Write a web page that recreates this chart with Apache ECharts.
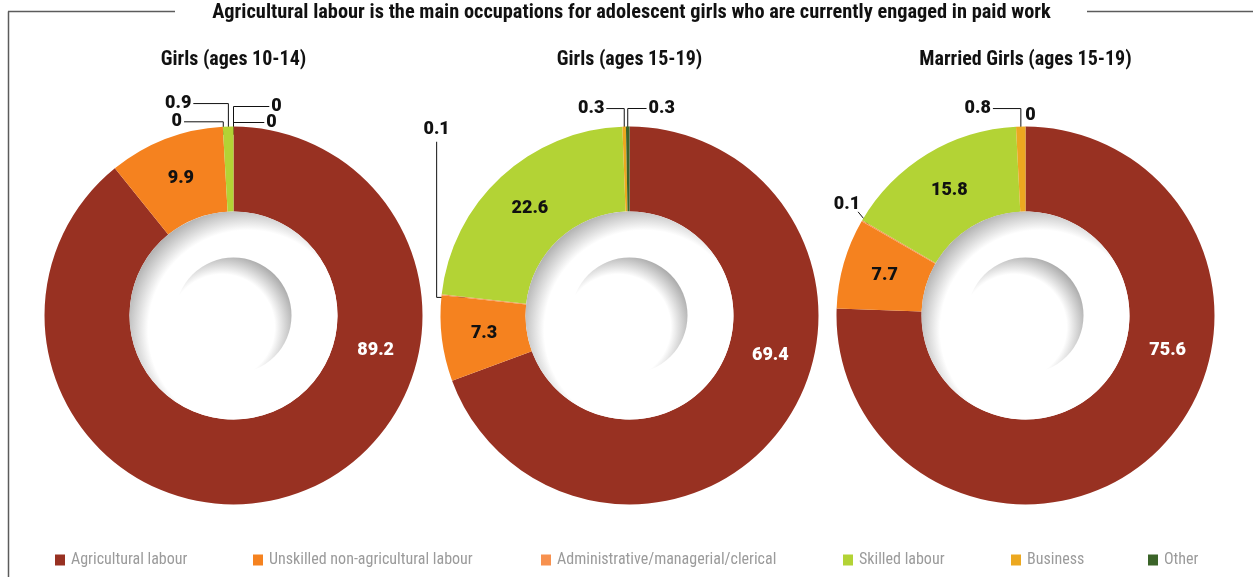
<!DOCTYPE html>
<html>
<head>
<meta charset="utf-8">
<script src="https://cdn.jsdelivr.net/npm/echarts@6/dist/echarts.min.js"></script>
<style>
  html, body { margin: 0; padding: 0; background: #ffffff; }
  #chart { width: 1253px; height: 577px; }
</style>
</head>
<body>
<div id="chart"></div>
<script>
// ---- data ----
const chartTitle = 'Agricultural labour is the main occupations for adolescent girls who are currently engaged in paid work';
const panelTitles = ['Girls (ages 10-14)', 'Girls (ages 15-19)', 'Married Girls (ages 15-19)'];
const categories = [
  'Agricultural labour',
  'Unskilled non-agricultural labour',
  'Administrative/managerial/clerical',
  'Skilled labour',
  'Business',
  'Other'
];
const girls10to14 = [89.2, 9.9, 0, 0.9, 0, 0];
const girls15to19 = [69.4, 7.3, 0.1, 22.6, 0.3, 0.3];
const married15to19 = [75.6, 7.7, 0.1, 15.8, 0.8, 0];

// ---- styling / layout ----
const panels = [girls10to14, girls15to19, married15to19];
const colors = ['#983122', '#f5821f', '#f7914f', '#b3d335', '#eca820', '#3b6429'];
const centersX = [233.5, 629.5, 1025.5];
const centerY = 315.5;
const ringRadius = [104, 189];
const dimpleRadius = 58;

// where the small-slice callouts sit, relative to the slice's outer edge
const callouts = [
  { 2: { dx: -46, dy: -5, mode: 'h', inset: 8 }, 3: { dx: -50, dy: -23, mode: 'h', inset: 8 },
    4: { dx: 43, dy: -20, mode: 'h', inset: 8 }, 5: { dx: 38, dy: -4, mode: 'h', inset: 8 } },
  { 2: { dx: -5, dy: -165, mode: 'v', inset: 24 }, 4: { dx: -33, dy: -18, mode: 'h', inset: 3 },
    5: { dx: 34, dy: -18, mode: 'h', inset: 3 } },
  { 2: { dx: -15, dy: -16, mode: 'd', inset: 8 }, 4: { dx: -43, dy: -18, mode: 'h', inset: 4 },
    5: { dx: 5, dy: -11, mode: 'none', inset: 0 } }
];
// angle (clockwise from 12 o'clock) for the big slice's value label
const mainLabelAngle = [104, 106, 104];

const narrow = '"Liberation Sans Narrow", "Roboto Condensed", "DejaVu Sans Condensed", "Arial Narrow", sans-serif';
const valueFont = 'Roboto, "Liberation Sans", sans-serif';

const chart = echarts.init(document.getElementById('chart'), null, { renderer: 'canvas' });

function buildData(values, k) {
  return values.map(function (v, i) {
    const c = callouts[k][i];
    return {
      name: categories[i],
      value: v,
      label: c ? { position: 'outside', color: '#111' }
               : { position: 'inside', color: i === 0 ? '#ffffff' : '#111111' },
      labelLine: { show: !!c && c.mode !== 'none' }
    };
  });
}

function placeLabel(p) {
  const k = p.seriesIndex;
  const L = chart.getModel().getSeriesByIndex(k).getData().getItemLayout(p.dataIndex);
  const c = callouts[k][p.dataIndex];
  const w = p.labelRect.width, h = p.labelRect.height;
  if (!c) {
    let a = (L.startAngle + L.endAngle) / 2;
    if (p.dataIndex === 0) a = -Math.PI / 2 + mainLabelAngle[k] * Math.PI / 180;
    const rr = (L.r + L.r0) / 2;
    return { x: L.cx + rr * Math.cos(a), y: L.cy + rr * Math.sin(a), align: 'center', verticalAlign: 'middle' };
  }
  const a = (L.startAngle + L.endAngle) / 2;
  const ax = L.cx + L.r * Math.cos(a), ay = L.cy + L.r * Math.sin(a);
  const ix = L.cx + (L.r - c.inset) * Math.cos(a), iy = L.cy + (L.r - c.inset) * Math.sin(a);
  const lx = ax + c.dx, ly = ay + c.dy;
  const out = { x: lx, y: ly, align: 'center', verticalAlign: 'middle' };
  if (c.mode === 'h') {
    const ex = c.dx < 0 ? lx + w / 2 + 2 : lx - w / 2 - 2;
    out.labelLinePoints = [[ex, ly], [ix, ly], [ix, iy]];
  } else if (c.mode === 'v') {
    out.labelLinePoints = [[lx, ly + h / 2 + 3], [lx, iy], [ix, iy]];
  } else if (c.mode === 'd') {
    const ex = lx + w / 2 - 2, ey = ly + h / 2 - 2;
    out.labelLinePoints = [[ex, ey], [(ex + ix) / 2, (ey + iy) / 2], [ix, iy]];
  }
  return out;
}

const ringSeries = panels.map(function (values, k) {
  return {
    type: 'pie',
    name: panelTitles[k],
    center: [centersX[k], centerY],
    radius: ringRadius,
    startAngle: 90,
    clockwise: true,
    avoidLabelOverlap: false,
    silent: true,
    animation: false,
    label: {
      show: true,
      formatter: '{c}',
      fontFamily: valueFont,
      fontWeight: 900,
      fontSize: 18
    },
    labelLine: { show: false, lineStyle: { color: '#111', width: 1 }, length: 10, length2: 10 },
    labelLayout: placeLabel,
    itemStyle: { borderWidth: 0 },
    data: buildData(values, k)
  };
});

// shaded hole and centre dimple of each ring
const holeFill = {
  type: 'radial', x: 0.57, y: 0.57, r: 0.6,
  colorStops: [{ offset: 0, color: '#ffffff' }, { offset: 0.8, color: '#ffffff' }, { offset: 1, color: '#b0b0b0' }]
};
const dimpleFill = {
  type: 'radial', x: 0.4, y: 0.6, r: 0.65,
  colorStops: [{ offset: 0, color: '#ffffff' }, { offset: 0.7, color: '#ffffff' }, { offset: 1, color: '#a6a6a6' }]
};
const decorSeries = [];
centersX.forEach(function (cx) {
  [[ringRadius[0], holeFill], [dimpleRadius, dimpleFill]].forEach(function (d) {
    decorSeries.push({
      type: 'pie', center: [cx, centerY], radius: [0, d[0]], silent: true, animation: false,
      label: { show: false }, labelLine: { show: false }, emphasis: { disabled: true },
      data: [{ value: 1, name: '', itemStyle: { color: d[1] } }]
    });
  });
});

const legendLeft = [55, 253, 541, 843, 1011, 1148];
const legends = categories.map(function (name, i) {
  return {
    data: [name], left: legendLeft[i], top: 552, orient: 'horizontal',
    icon: 'rect', itemWidth: 10, itemHeight: 11, itemGap: 0, padding: 0,
    selectedMode: false,
    textStyle: { color: '#9b9b9b', fontFamily: narrow, fontSize: 16, padding: [0, 0, 0, 1] }
  };
});

const frame = { stroke: '#5c5c5c', lineWidth: 1.5 };
const graphics = [
  { type: 'line', shape: { x1: 8.5, y1: 11.5, x2: 8.5, y2: 577 }, style: frame, silent: true },
  { type: 'line', shape: { x1: 8, y1: 11.5, x2: 175, y2: 11.5 }, style: frame, silent: true },
  { type: 'line', shape: { x1: 1087, y1: 11.5, x2: 1253, y2: 11.5 }, style: frame, silent: true },
  { type: 'text', x: 631.5, y: 13, scaleX: 0.97, silent: true,
    style: { text: chartTitle, font: 'bold 21px ' + narrow, fill: '#111', align: 'center', verticalAlign: 'middle',
             textAlign: 'center', textVerticalAlign: 'middle' } }
];
panelTitles.forEach(function (t, k) {
  graphics.push({ type: 'text', x: centersX[k], y: 60, scaleX: 1, silent: true,
    style: { text: t, font: 'bold 20px ' + narrow, fill: '#111', align: 'center', verticalAlign: 'middle',
             textAlign: 'center', textVerticalAlign: 'middle' } });
});

chart.setOption({
  animation: false,
  color: colors,
  legend: legends,
  graphic: graphics,
  series: ringSeries.concat(decorSeries)
});
</script>
</body>
</html>
